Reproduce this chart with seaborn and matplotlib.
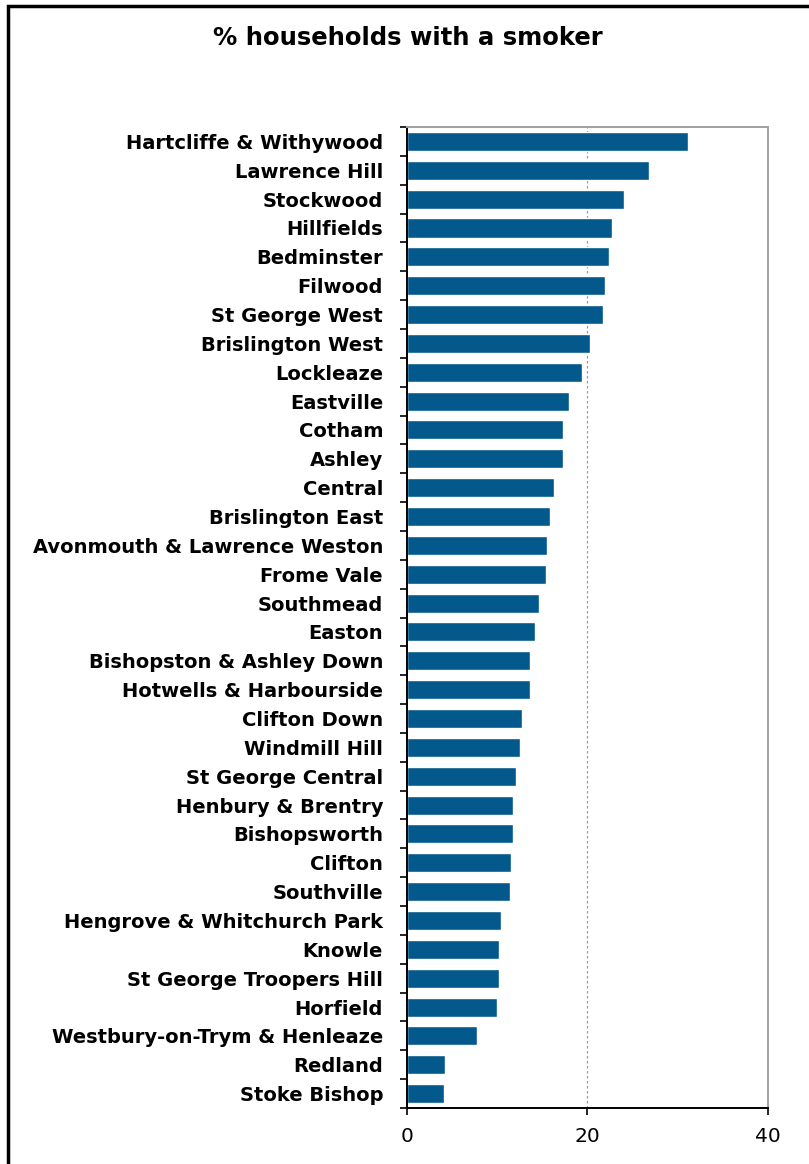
import matplotlib
matplotlib.use("Agg")
import matplotlib.pyplot as plt
import seaborn as sns
import pandas as pd
from matplotlib.patches import Rectangle
from matplotlib.ticker import FixedLocator

wards = [
    "Hartcliffe & Withywood", "Lawrence Hill", "Stockwood", "Hillfields",
    "Bedminster", "Filwood", "St George West", "Brislington West",
    "Lockleaze", "Eastville", "Cotham", "Ashley", "Central",
    "Brislington East", "Avonmouth & Lawrence Weston", "Frome Vale",
    "Southmead", "Easton", "Bishopston & Ashley Down",
    "Hotwells & Harbourside", "Clifton Down", "Windmill Hill",
    "St George Central", "Henbury & Brentry", "Bishopsworth", "Clifton",
    "Southville", "Hengrove & Whitchurch Park", "Knowle",
    "St George Troopers Hill", "Horfield", "Westbury-on-Trym & Henleaze",
    "Redland", "Stoke Bishop",
]
pct_smoker = [
    31.2, 26.9, 24.1, 22.7, 22.4, 22.0, 21.7, 20.3, 19.4, 18.0, 17.3,
    17.3, 16.3, 15.9, 15.6, 15.4, 14.7, 14.2, 13.7, 13.7, 12.8, 12.6,
    12.1, 11.8, 11.8, 11.6, 11.4, 10.4, 10.2, 10.2, 10.0, 7.8, 4.3, 4.1,
]
x_ticks = [0, 20, 40]
title = "% households with a smoker"

df = pd.DataFrame({"ward": wards, "pct": pct_smoker})

sns.set_theme(style="white")
plt.rcParams["font.family"] = ["DejaVu Sans"]
plt.rcParams["text.color"] = "black"
plt.rcParams["xtick.color"] = "black"
plt.rcParams["ytick.color"] = "black"
plt.rcParams["xtick.labelcolor"] = "black"
plt.rcParams["ytick.labelcolor"] = "black"

fig = plt.figure(figsize=(8.09, 11.64), dpi=100)
ax = fig.add_axes([0.5027, 0.0481, 0.4463, 0.8428])

sns.barplot(data=df, x="pct", y="ward", orient="h", color="#03598C",
            width=0.66, saturation=1, ax=ax)

ax.set_xlim(0, 40)
ax.set_ylim(len(wards) - 0.5, -0.5)
ax.set_xticks(x_ticks)
ax.set_xticklabels([str(t) for t in x_ticks], fontsize=14.5, color="black")
ax.set_xlabel("")
ax.set_ylabel("")

# category labels centred on bars, tick marks on the boundaries between them
ax.tick_params(axis="y", which="major", length=0, pad=17, labelsize=14,
               labelcolor="black")
for lbl in ax.get_yticklabels():
    lbl.set_fontweight("bold")
ax.yaxis.set_minor_locator(FixedLocator([i - 0.5 for i in range(len(wards) + 1)]))
ax.tick_params(axis="y", which="minor", left=True, length=5, width=1.2,
               color="black", direction="out")
ax.tick_params(axis="x", which="major", bottom=True, length=5, width=1.2,
               color="black", direction="out", pad=9)

ax.axvline(20, color="#9a9a9a", linestyle=(0, (2, 2)), linewidth=0.9, zorder=0)

for side in ("left", "bottom"):
    ax.spines[side].set_color("black")
    ax.spines[side].set_linewidth(1.4)
for side in ("top", "right"):
    ax.spines[side].set_color("#a0a0a0")
    ax.spines[side].set_linewidth(1.4)
    ax.spines[side].set_visible(True)

fig.text(0.504, 0.967, title, ha="center", va="center",
         fontsize=17.5, fontweight="bold", color="black")

# outer chart frame
fig.patches.append(Rectangle((8 / 809, -0.1), 1.2, 1.1 - 6 / 1164,
                             transform=fig.transFigure, fill=False,
                             edgecolor="black", linewidth=2.5))

fig.savefig("out.png", dpi=100)
